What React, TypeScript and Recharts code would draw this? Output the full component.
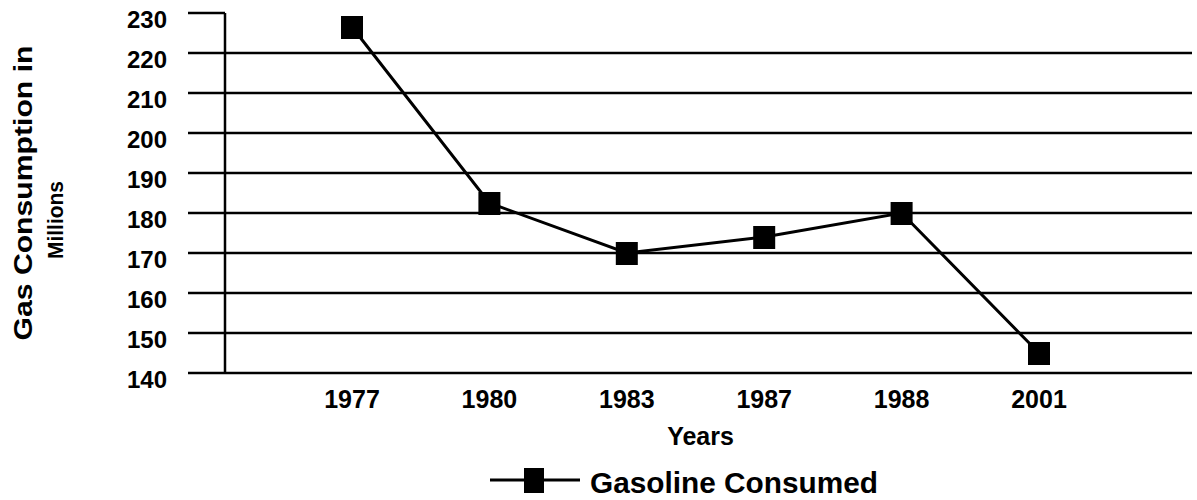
import React from 'react'
import { LineChart, Line, XAxis, YAxis, ReferenceLine, Legend } from 'recharts'

const YEARS = ['1977', '1980', '1983', '1987', '1988', '2001']
const GASOLINE = [226.5, 182.5, 170, 174, 180, 145]
const Y_TICKS = [140, 150, 160, 170, 180, 190, 200, 210, 220, 230]
// horizontal rules (the 230 line is only a tick in the original)
const GRID_LINES = [150, 160, 170, 180, 190, 200, 210, 220]

const FONT = '"Liberation Sans", Arial, sans-serif'
const INK = '#000'

const data = YEARS.map((year, i) => ({ year, value: GASOLINE[i] }))

const SquareDot = (props: any) => {
  const { cx, cy } = props
  if (cx == null || cy == null) return null
  return <rect x={cx - 11} y={cy - 11} width={22} height={23} fill={INK} />
}

// y tick labels sit a little below their tick in the scan
const YTick = (props: any) => {
  const { x, y, payload } = props
  return (
    <text
      x={x}
      y={y + 6}
      textAnchor="end"
      dominantBaseline="central"
      fontFamily={FONT}
      fontWeight="bold"
      fontSize={24}
      fill={INK}
    >
      {payload.value}
    </text>
  )
}

const YTitle = (props: any) => {
  const vb = props.viewBox || { x: 0, y: 0, height: 0 }
  const mid = vb.y + vb.height / 2
  const c1 = { x: 23, y: mid }
  const c2 = { x: 55, y: mid + 27 }
  return (
    <g fontFamily={FONT} fontWeight="bold" fill={INK}>
      <text
        x={c1.x}
        y={c1.y}
        fontSize={26}
        textAnchor="middle"
        dominantBaseline="central"
        textLength={295}
        lengthAdjust="spacingAndGlyphs"
        transform={`rotate(-90, ${c1.x}, ${c1.y})`}
      >
        Gas Consumption in
      </text>
      <text
        x={c2.x}
        y={c2.y}
        fontSize={22}
        textAnchor="middle"
        dominantBaseline="central"
        textLength={78}
        lengthAdjust="spacingAndGlyphs"
        transform={`rotate(-90, ${c2.x}, ${c2.y})`}
      >
        Millions
      </text>
    </g>
  )
}

const XTitle = (props: any) => {
  const vb = props.viewBox || { x: 0, y: 0, width: 0 }
  return (
    <text
      x={vb.x + vb.width / 2 - 8}
      y={vb.y + 72}
      fontFamily={FONT}
      fontWeight="bold"
      fontSize={25}
      textAnchor="middle"
      fill={INK}
    >
      Years
    </text>
  )
}

const GasLegend = () => (
  <svg width={1197} height={50} style={{ display: 'block' }}>
    <line x1={490} y1={30} x2={580} y2={30} stroke={INK} strokeWidth={3} />
    <rect x={524} y={18} width={20} height={25} fill={INK} />
    <text
      x={590}
      y={43}
      fontFamily={FONT}
      fontWeight="bold"
      fontSize={29}
      fill={INK}
      textLength={288}
      lengthAdjust="spacingAndGlyphs"
    >
      Gasoline Consumed
    </text>
  </svg>
)

export default function App() {
  return (
    <div style={{ position: 'absolute', left: 0, top: 0, background: '#fff' }}>
      <LineChart
        width={1197}
        height={500}
        data={data}
        margin={{ top: 13, right: 5, left: 0, bottom: 0 }}
      >
        <XAxis
          dataKey="year"
          height={77}
          padding={{ left: 127, right: 153 }}
          axisLine={{ stroke: INK, strokeWidth: 2.5 }}
          tickLine={false}
          tickSize={0}
          tickMargin={17}
          interval={0}
          tick={{ fill: INK, fontSize: 25, fontWeight: 'bold', fontFamily: FONT }}
          label={<XTitle />}
        />
        <YAxis
          width={225}
          domain={[140, 230]}
          ticks={Y_TICKS}
          interval={0}
          axisLine={{ stroke: INK, strokeWidth: 2.5 }}
          tickLine={{ stroke: INK, strokeWidth: 2.5 }}
          tickSize={37}
          tickMargin={21}
          tick={<YTick />}
          label={<YTitle />}
        />
        {GRID_LINES.map((v) => (
          <ReferenceLine key={v} y={v} stroke={INK} strokeWidth={2.5} />
        ))}
        <Legend verticalAlign="bottom" height={50} content={<GasLegend />} wrapperStyle={{ left: 0, bottom: 0 }} />
        <Line
          type="linear"
          dataKey="value"
          name="Gasoline Consumed"
          stroke={INK}
          strokeWidth={3}
          dot={<SquareDot />}
          activeDot={false}
          isAnimationActive={false}
        />
      </LineChart>
    </div>
  )
}
